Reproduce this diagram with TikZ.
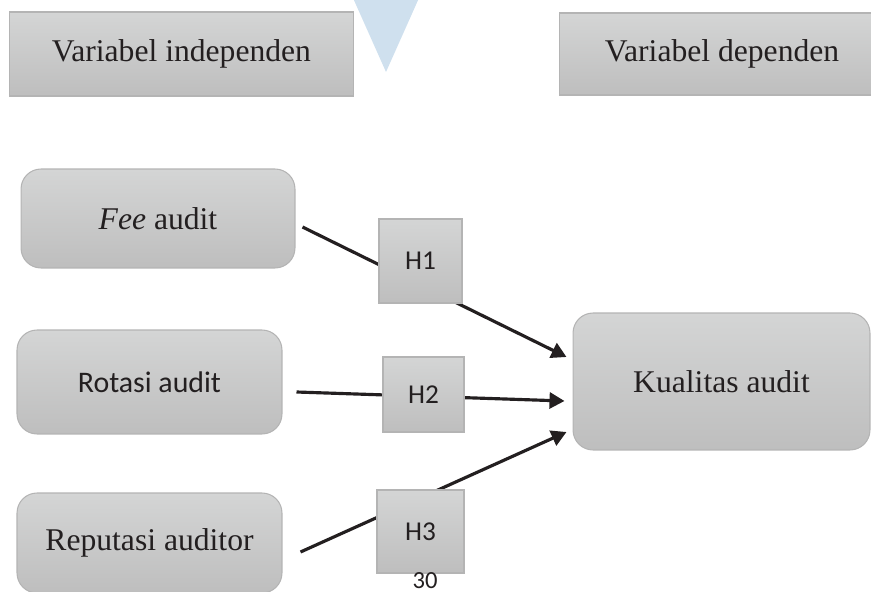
\documentclass[tikz,border=0pt]{standalone}
\usepackage{fontspec}
\setmainfont{Liberation Serif}
\newfontfamily\bodysans{Carlito}
\usetikzlibrary{arrows.meta,calc}
\definecolor{Ink}{HTML}{231F20}
\definecolor{Frame}{HTML}{B4B4B4}
\definecolor{TopGray}{HTML}{D4D5D5}
\definecolor{LowGray}{HTML}{BEBEBE}
\definecolor{Sky}{HTML}{CFE0EE}

\begin{document}
\begin{tikzpicture}[x=0.02cm,y=-0.02cm,
    block/.style={draw=Frame,line width=0.6pt,top color=TopGray,bottom color=LowGray,
      text=Ink,inner sep=0pt,font=\fontsize{18}{21}\selectfont},
    var/.style={block,rounded corners=0.4cm},
    hyp/.style={block,font=\bodysans\fontsize{15.5}{18}\selectfont},
    link/.style={line width=1.8pt,draw=Ink,-{Triangle[length=0.3cm,width=0.32cm]}}
  ]
    \useasboundingbox (0,0) rectangle (871,591);
    \clip (0,0) rectangle (871,591);
    \fill[Sky] (353,-2) -- (419,-2) -- (386,72) -- cycle;
    % headings
    \node[block,minimum width=6.9cm,minimum height=1.68cm] (indep) at (181.5,54) {Variabel independen};
    \node[block,minimum width=6.52cm,minimum height=1.64cm] (dep) at (722,54) {Variabel dependen};
    % variables
    \node[var,minimum width=5.48cm,minimum height=1.98cm] (fee) at (158,218.5) {\textit{Fee} audit};
    \node[var,minimum width=5.3cm,minimum height=2.08cm,font=\bodysans\fontsize{17}{20}\selectfont] (rotasi) at (149.5,382) {Rotasi audit};
    \node[var,minimum width=5.3cm,minimum height=2.0cm] (reputasi) at (149.5,543) {Reputasi auditor};
    \node[var,minimum width=5.94cm,minimum height=2.74cm] (kualitas) at (721.5,381.5) {Kualitas audit};
    % paths
    \draw[link] ([shift={(7,8.5)}]fee.east) -- ([shift={(-6,-24.5)}]kualitas.west);
    \draw[link] ([shift={(14,10)}]rotasi.east) -- ([shift={(-8,19.5)}]kualitas.west);
    \draw[link] ([shift={(18,9)}]reputasi.east) -- ([shift={(-6,50.5)}]kualitas.west);
    % hypotheses
    \node[hyp,minimum width=1.66cm,minimum height=1.68cm] (h1) at (420.5,261) {H1};
    \node[hyp,minimum width=1.62cm,minimum height=1.5cm] (h2) at (423.5,394.5) {H2};
    \node[hyp,minimum width=1.74cm,minimum height=1.66cm] (h3) at (420.5,531.5) {H3};
    \node[font=\bodysans\fontsize{14}{16}\selectfont,text=Ink,inner sep=0pt] (page) at (425,581) {30};
  \end{tikzpicture}
\end{document}
